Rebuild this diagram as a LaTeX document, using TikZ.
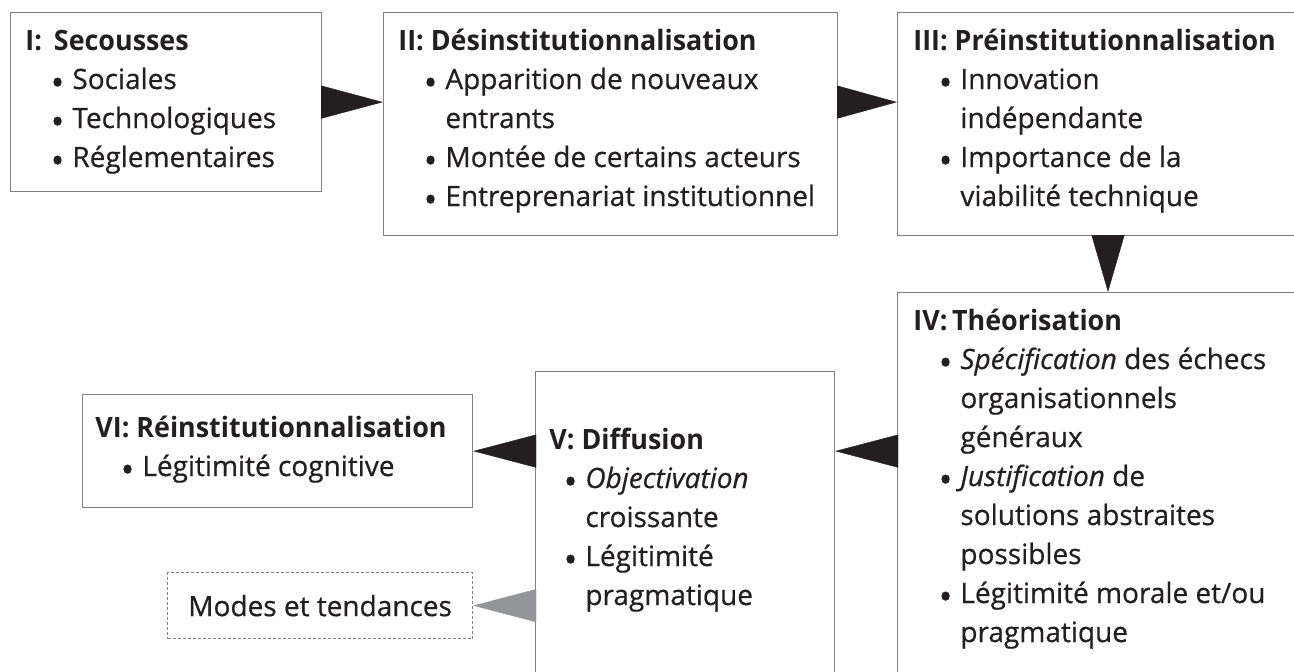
\documentclass[tikz,border=0pt]{standalone}
\usepackage{fontspec}
\setmainfont{Open Sans}[UprightFeatures={FakeBold=0.6}, ItalicFeatures={FakeBold=0.6}, BoldFeatures={FakeStretch=0.96}]
\usetikzlibrary{arrows.meta,positioning}

\definecolor{cadre}{HTML}{808080}
\definecolor{grisfleche}{HTML}{939598}
\definecolor{encre}{HTML}{231F20}

\newlength{\retrait}\setlength{\retrait}{23.5pt}
\newcommand{\puce}[1]{\par\hangindent=\retrait\hangafter=1\noindent\hbox to\retrait{\hfil\raisebox{-3.2pt}{\scalebox{1.3}{\textbullet}}\hspace{4pt}}#1}
\newcommand{\etape}[2]{\parbox[t]{260pt}{\noindent\textbf{#1}#2}}

\begin{document}
\begin{tikzpicture}[x=0.5pt, y=-0.5pt,
    boite/.style 2 args={draw=cadre, line width=0.6pt, rectangle, inner sep=0pt, anchor=north west, minimum width=#1*0.5pt, minimum height=#2*0.5pt},
    texte/.style={anchor=base west, inner sep=0pt},
    fleche/.style={-{Triangle[length=#1, width=16.5pt]}, line width=0.2pt, draw=encre},
    fleche/.default=30pt]
  \tikzstyle{every node}=[font=\fontsize{14}{19.5}\selectfont, text=encre]
  \useasboundingbox (0,0) rectangle (1294,671);
  \clip (0,0) rectangle (1294,671);

  % cadres
  \node[boite={311}{179}] (bI) at (10,12) {};
  \node[boite={454}{223}] (bII) at (383,12) {};
  \node[boite={440}{223}] (bIII) at (897,12) {};
  \node[boite={440}{420}] (bIV) at (897,292) {};
  \node[boite={299}{340}] (bV) at (535,371) {};
  \node[boite={390}{113}] (bVI) at (82,394) {};
  \node[boite={305}{66}, dash pattern=on 1.5pt off 1pt] (bMT) at (167,572) {Modes et tendances};

  % textes
  \node[texte] (tI) at ([shift={(15,38)}]bI.north west)
    {\etape{I:\hspace{6pt}Secousses}{\puce{Sociales}\puce{Technologiques}\puce{Réglementaires}}};
  \node[texte] (tII) at ([shift={(15,38)}]bII.north west)
    {\etape{II: Désinstitutionnalisation}{\puce{Apparition de nouveaux\\entrants}\puce{Montée de certains acteurs}\puce{Entreprenariat institutionnel}}};
  \node[texte] (tIII) at ([shift={(16,38)}]bIII.north west)
    {\etape{III: Préinstitutionnalisation}{\puce{Innovation\\indépendante}\puce{Importance de la\\viabilité technique}}};
  \node[texte] (tIV) at ([shift={(16,38)}]bIV.north west)
    {\etape{IV:\,Théorisation}{\puce{\textit{Spécification} des échecs\\organisationnels\\généraux}\puce{\textit{Justification} de\\solutions abstraites\\possibles}\puce{Légitimité morale et/ou\\pragmatique}}};
  \node[texte] (tV) at ([shift={(14,78)}]bV.north west)
    {\etape{V: Diffusion}{\setlength{\retrait}{18pt}\puce{\textit{Objectivation}\\croissante}\puce{Légitimité\\pragmatique}}};
  \node[texte] (tVI) at ([shift={(13,43)}]bVI.north west)
    {\etape{VI: Réinstitutionnalisation}{\puce{Légitimité cognitive}}};

  % fleches
  \draw[fleche=31pt] (bI.east) -- (bII.west |- bI.east);
  \draw[fleche=30pt] (bII.east |- bI.east) -- (bIII.west |- bI.east);
  \draw[fleche=28.5pt] ([shift={(211,0)}]bIII.south west) -- ([shift={(211,0)}]bIV.north west);
  \draw[fleche=31.5pt] (bIV.west |- bVI.east) -- (bV.east |- bVI.east);
  \draw[fleche=31.5pt] (bV.west |- bVI.east) -- (bVI.east);
  \draw[fleche=31.5pt, draw=grisfleche] (bV.west |- bMT.east) -- (bMT.east);
\end{tikzpicture}
\end{document}
